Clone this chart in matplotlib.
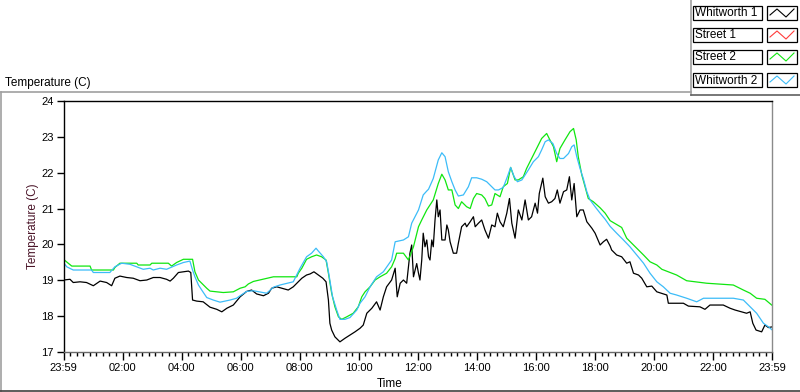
import matplotlib as mpl
import matplotlib.pyplot as plt
from matplotlib.lines import Line2D
from matplotlib.patches import Rectangle
import numpy as np

# Whitworth 1 (black)
whit1_hours = [0.0, 0.22, 0.33, 0.56, 0.78, 1.01, 1.24, 1.46, 1.63, 1.74, 1.91, 2.14, 2.36, 2.59, 2.82,
               3.04, 3.27, 3.49, 3.61, 3.72, 3.89, 4.06, 4.23, 4.31, 4.37, 4.51, 4.73, 4.96, 5.19, 5.36,
               5.53, 5.75, 5.98, 6.2, 6.37, 6.54, 6.77, 6.94, 7.05, 7.22, 7.39, 7.61, 7.78, 7.9, 8.07,
               8.23, 8.35, 8.48, 8.63, 8.78, 8.89, 8.97, 9.02, 9.08, 9.19, 9.36, 9.53, 9.7, 9.87, 10.04,
               10.15, 10.27, 10.44, 10.6, 10.72, 10.83, 10.94, 11.11, 11.23, 11.3, 11.4, 11.51, 11.62, 11.73, 11.79,
               11.85, 11.96, 12.02, 12.07, 12.13, 12.18, 12.24, 12.3, 12.36, 12.41, 12.47, 12.52, 12.58, 12.64, 12.69,
               12.75, 12.81, 12.92, 12.98, 13.03, 13.09, 13.2, 13.31, 13.37, 13.48, 13.6, 13.65, 13.77, 13.88, 13.94,
               14.05, 14.16, 14.27, 14.39, 14.5, 14.61, 14.69, 14.78, 14.89, 15.01, 15.1, 15.18, 15.29, 15.4, 15.52,
               15.63, 15.74, 15.85, 15.97, 16.05, 16.11, 16.23, 16.31, 16.42, 16.53, 16.64, 16.72, 16.81, 16.93, 17.04,
               17.13, 17.21, 17.29, 17.38, 17.49, 17.6, 17.72, 17.89, 18.0, 18.17, 18.28, 18.39, 18.51, 18.56, 18.73,
               18.9, 19.07, 19.18, 19.3, 19.47, 19.58, 19.75, 19.92, 20.09, 20.43, 20.48, 20.99, 21.16, 21.55, 21.72,
               21.89, 22.34, 22.57, 22.74, 22.96, 23.13, 23.25, 23.34, 23.45, 23.64, 23.75, 23.87, 24.0]
whit1_temp = [19.0, 19.02, 18.93, 18.95, 18.93, 18.84, 18.97, 18.93, 18.84, 19.05, 19.11, 19.07, 19.05, 18.98, 19.0,
              19.07, 19.07, 19.02, 18.97, 19.05, 19.21, 19.23, 19.25, 19.21, 18.44, 18.41, 18.39, 18.24, 18.18, 18.11,
              18.21, 18.3, 18.53, 18.68, 18.72, 18.61, 18.56, 18.63, 18.77, 18.81, 18.77, 18.72, 18.81, 18.91, 19.05,
              19.14, 19.17, 19.23, 19.14, 19.05, 18.95, 18.44, 17.79, 17.6, 17.41, 17.27, 17.37, 17.46, 17.55, 17.65,
              17.74, 18.07, 18.21, 18.39, 18.16, 18.53, 18.81, 19.0, 19.33, 18.53, 18.91, 19.0, 18.91, 19.75, 19.98,
              19.09, 19.46, 19.19, 19.0, 19.56, 20.31, 19.93, 20.12, 19.65, 19.56, 20.12, 19.93, 20.68, 21.24, 20.77,
              20.96, 20.12, 20.12, 20.54, 20.4, 20.07, 19.75, 19.75, 20.03, 20.49, 20.59, 20.49, 20.63, 20.77, 20.49,
              20.59, 20.68, 20.4, 20.17, 20.54, 20.49, 20.87, 20.63, 20.49, 20.87, 21.28, 20.59, 20.17, 20.96, 20.68,
              21.24, 20.68, 20.77, 21.15, 20.87, 21.42, 21.85, 21.33, 21.15, 21.19, 21.28, 21.52, 21.15, 21.47, 21.52,
              21.89, 21.24, 21.7, 20.77, 20.96, 20.96, 20.63, 20.45, 20.31, 19.98, 20.07, 20.14, 19.95, 19.84, 19.7,
              19.65, 19.47, 19.51, 19.19, 19.14, 19.05, 18.81, 18.83, 18.67, 18.58, 18.35, 18.35, 18.27, 18.25, 18.18,
              18.3, 18.3, 18.21, 18.16, 18.11, 18.07, 18.11, 17.79, 17.6, 17.55, 17.74, 17.67, 17.69]

# Street 1 (red) - no trace visible in the chart
street1_hours = []
street1_temp = []

# Street 2 (green)
street2_hours = [0.0, 0.16, 0.28, 0.9, 0.95, 1.69, 1.74, 1.91, 2.48, 2.53, 2.93, 2.99, 3.55, 3.66, 3.83,
                 4.06, 4.37, 4.45, 4.57, 4.68, 4.85, 4.96, 5.41, 5.75, 5.98, 6.15, 6.26, 6.43, 7.11, 7.9,
                 7.95, 8.07, 8.23, 8.4, 8.57, 8.74, 8.89, 8.97, 9.08, 9.19, 9.31, 9.42, 9.59, 9.81, 9.98,
                 10.1, 10.21, 10.38, 10.55, 10.72, 10.94, 11.11, 11.23, 11.28, 11.51, 11.68, 11.85, 12.02, 12.13, 12.3,
                 12.52, 12.69, 12.81, 12.92, 13.03, 13.15, 13.26, 13.37, 13.48, 13.65, 13.77, 13.88, 13.99, 14.16, 14.27,
                 14.39, 14.5, 14.61, 14.78, 14.89, 15.03, 15.14, 15.29, 15.4, 15.57, 15.68, 15.85, 16.02, 16.19, 16.36,
                 16.47, 16.59, 16.7, 16.81, 16.98, 17.15, 17.27, 17.36, 17.43, 17.55, 17.66, 17.77, 17.94, 18.17, 18.34,
                 18.51, 18.9, 19.07, 19.3, 19.47, 19.64, 19.86, 20.09, 20.26, 20.76, 21.1, 21.78, 22.68, 23.02, 23.25,
                 23.47, 23.75, 23.98]
street2_temp = [19.58, 19.47, 19.39, 19.39, 19.28, 19.28, 19.35, 19.47, 19.47, 19.42, 19.42, 19.47, 19.47, 19.39, 19.49,
                19.58, 19.58, 19.23, 19.0, 18.91, 18.77, 18.69, 18.65, 18.67, 18.77, 18.81, 18.89, 18.96, 19.09, 19.09,
                19.19, 19.33, 19.58, 19.65, 19.7, 19.65, 19.56, 19.19, 18.63, 18.25, 17.97, 17.9, 17.97, 18.07, 18.25,
                18.53, 18.67, 18.81, 19.0, 19.09, 19.19, 19.37, 19.6, 19.75, 19.75, 19.56, 19.93, 20.49, 20.68, 20.96,
                21.24, 21.7, 21.96, 21.8, 21.52, 21.52, 21.1, 21.0, 21.19, 21.05, 21.0, 21.28, 21.42, 21.38, 21.28,
                21.07, 21.1, 21.42, 21.33, 21.61, 21.7, 22.15, 21.8, 21.8, 21.89, 22.12, 22.4, 22.68, 22.96, 23.1,
                22.92, 22.73, 22.31, 22.68, 22.92, 23.15, 23.24, 22.92, 22.45, 21.94, 21.61, 21.28, 21.19, 21.02, 20.87,
                20.66, 20.47, 20.17, 19.98, 19.84, 19.7, 19.51, 19.42, 19.3, 19.14, 18.98, 18.91, 18.86, 18.72, 18.63,
                18.49, 18.46, 18.3]

# Whitworth 2 (light blue)
whit2_hours = [0.0, 0.11, 0.33, 0.95, 1.01, 1.57, 1.74, 1.97, 2.25, 2.48, 2.7, 2.93, 3.04, 3.27, 3.49,
               3.83, 4.06, 4.28, 4.37, 4.45, 4.57, 4.68, 4.85, 5.07, 5.3, 5.64, 5.86, 5.98, 6.2, 6.43,
               6.88, 7.11, 7.33, 7.78, 8.01, 8.23, 8.4, 8.55, 8.63, 8.8, 8.91, 9.0, 9.11, 9.25, 9.36,
               9.53, 9.7, 9.93, 10.04, 10.21, 10.38, 10.6, 10.83, 11.11, 11.23, 11.51, 11.68, 11.79, 12.02, 12.18,
               12.3, 12.36, 12.52, 12.69, 12.81, 12.92, 13.03, 13.15, 13.26, 13.37, 13.54, 13.71, 13.82, 13.99, 14.16,
               14.33, 14.5, 14.61, 14.73, 14.89, 15.03, 15.14, 15.26, 15.37, 15.52, 15.63, 15.74, 15.91, 16.08, 16.19,
               16.31, 16.42, 16.57, 16.7, 16.81, 16.93, 17.1, 17.21, 17.29, 17.38, 17.49, 17.6, 17.72, 17.83, 18.0,
               18.17, 18.34, 18.51, 18.73, 18.96, 19.18, 19.41, 19.64, 19.86, 20.09, 20.31, 20.54, 20.76, 21.1, 21.44,
               21.67, 22.68, 23.02, 23.25, 23.47, 23.7, 23.87, 24.0]
whit2_temp = [19.49, 19.37, 19.28, 19.28, 19.21, 19.21, 19.37, 19.47, 19.44, 19.37, 19.3, 19.33, 19.28, 19.33, 19.3,
              19.42, 19.49, 19.53, 19.28, 19.09, 18.86, 18.72, 18.51, 18.44, 18.38, 18.44, 18.49, 18.56, 18.68, 18.7,
              18.63, 18.8, 18.86, 18.95, 19.33, 19.65, 19.75, 19.89, 19.81, 19.65, 19.51, 19.09, 18.53, 18.16, 17.9,
              17.9, 17.95, 18.16, 18.35, 18.53, 18.81, 19.09, 19.23, 19.56, 20.07, 20.12, 20.21, 20.59, 20.96, 21.38,
              21.49, 21.54, 21.84, 22.36, 22.56, 22.45, 22.03, 21.75, 21.52, 21.35, 21.38, 21.61, 21.86, 21.86, 21.82,
              21.75, 21.61, 21.52, 21.52, 21.59, 21.89, 22.15, 21.89, 21.75, 21.8, 21.94, 22.08, 22.31, 22.45, 22.64,
              22.87, 22.92, 22.82, 22.54, 22.4, 22.4, 22.54, 22.73, 22.78, 22.45, 22.12, 21.84, 21.47, 21.24, 21.05,
              20.87, 20.7, 20.5, 20.31, 20.12, 19.93, 19.7, 19.47, 19.19, 18.95, 18.81, 18.63, 18.58, 18.49, 18.39,
              18.49, 18.49, 18.44, 18.25, 18.07, 17.79, 17.69, 17.6]

tick_hours = [0, 2, 4, 6, 8, 10, 12, 14, 16, 18, 20, 22, 24]
tick_labels = ['23:59', '02:00', '04:00', '06:00', '08:00', '10:00', '12:00',
               '14:00', '16:00', '18:00', '20:00', '22:00', '23:59']
legend_names = ['Whitworth 1', 'Street 1', 'Street 2', 'Whitworth 2']
colors = ['#000000', '#ff3c3c', '#10e610', '#3cbcf8']

W, H = 800, 392


def fx(px):
    return px / W


def fy(py):
    return 1 - py / H


mpl.rcParams['font.family'] = 'Liberation Sans'
fig = plt.figure(figsize=(8, 3.92), dpi=100)

ax = fig.add_axes([fx(63.5), fy(351.5), fx(772.3 - 63.5), (351.5 - 101.3) / H])
series = [(whit1_hours, whit1_temp), (street1_hours, street1_temp),
          (street2_hours, street2_temp), (whit2_hours, whit2_temp)]
for (hrs, temps), color in zip(series, colors):
    ax.plot(hrs, temps, color=color, lw=0.9)

ax.set_xlim(0, 24)
ax.set_ylim(17, 24)
ax.set_yticks(range(17, 25))
ax.set_xticks(tick_hours)
ax.set_xticklabels(tick_labels)
ax.set_xticks(np.arange(0, 24.01, 2 / 9), minor=True)
ax.tick_params(axis='y', direction='out', length=5, width=1, pad=2, labelsize=8)
ax.tick_params(axis='x', which='major', direction='out', length=6, width=1, pad=2.5, labelsize=8)
ax.tick_params(axis='x', which='minor', direction='out', length=3, width=1)
for side, c in [('left', 'black'), ('top', 'black'), ('right', '#8a8a8a'), ('bottom', '#6a6a6a')]:
    ax.spines[side].set_color(c)
    ax.spines[side].set_linewidth(1)

fig.text(fx(33), fy(226), 'Temperature (C)', rotation=90, ha='center', va='center',
         fontsize=8.5, color='#4a1428')
fig.text(fx(390), fy(384), 'Time', ha='center', va='center', fontsize=8.5)
fig.text(fx(5), fy(83), 'Temperature (C)', ha='left', va='center', fontsize=8.5)

# outer frame lines
frame = [((1, 92), (691, 92), '#a0a0a0'), ((1, 92), (1, 391), '#a0a0a0'),
         ((0, 391), (800, 391), '#404040'), ((691, 0), (691, 95), '#a0a0a0'),
         ((691, 95), (800, 95), '#606060')]
for (x0, y0), (x1, y1), c in frame:
    fig.add_artist(Line2D([fx(x0), fx(x1)], [fy(y0), fy(y1)], color=c, lw=1.2,
                          transform=fig.transFigure))

# legend
row_tops = [6, 28, 50, 73]
for name, color, top in zip(legend_names, colors, row_tops):
    h = 14
    fig.add_artist(Rectangle((fx(693), fy(top + h)), fx(69), h / H, fill=False,
                             edgecolor='black', lw=0.9, transform=fig.transFigure))
    fig.add_artist(Rectangle((fx(767), fy(top + h)), fx(30), h / H, facecolor='white',
                             edgecolor='black', lw=0.9, transform=fig.transFigure))
    fig.text(fx(695), fy(top + h / 2 + 0.5), name, ha='left', va='center', fontsize=8.5)
    xs = [770, 777, 786, 794]
    ys = [top + 9, top + 3, top + 11, top + 3]
    fig.add_artist(Line2D([fx(v) for v in xs], [fy(v) for v in ys], color=color, lw=0.8,
                          transform=fig.transFigure))

fig.savefig('out.png', dpi=100)
